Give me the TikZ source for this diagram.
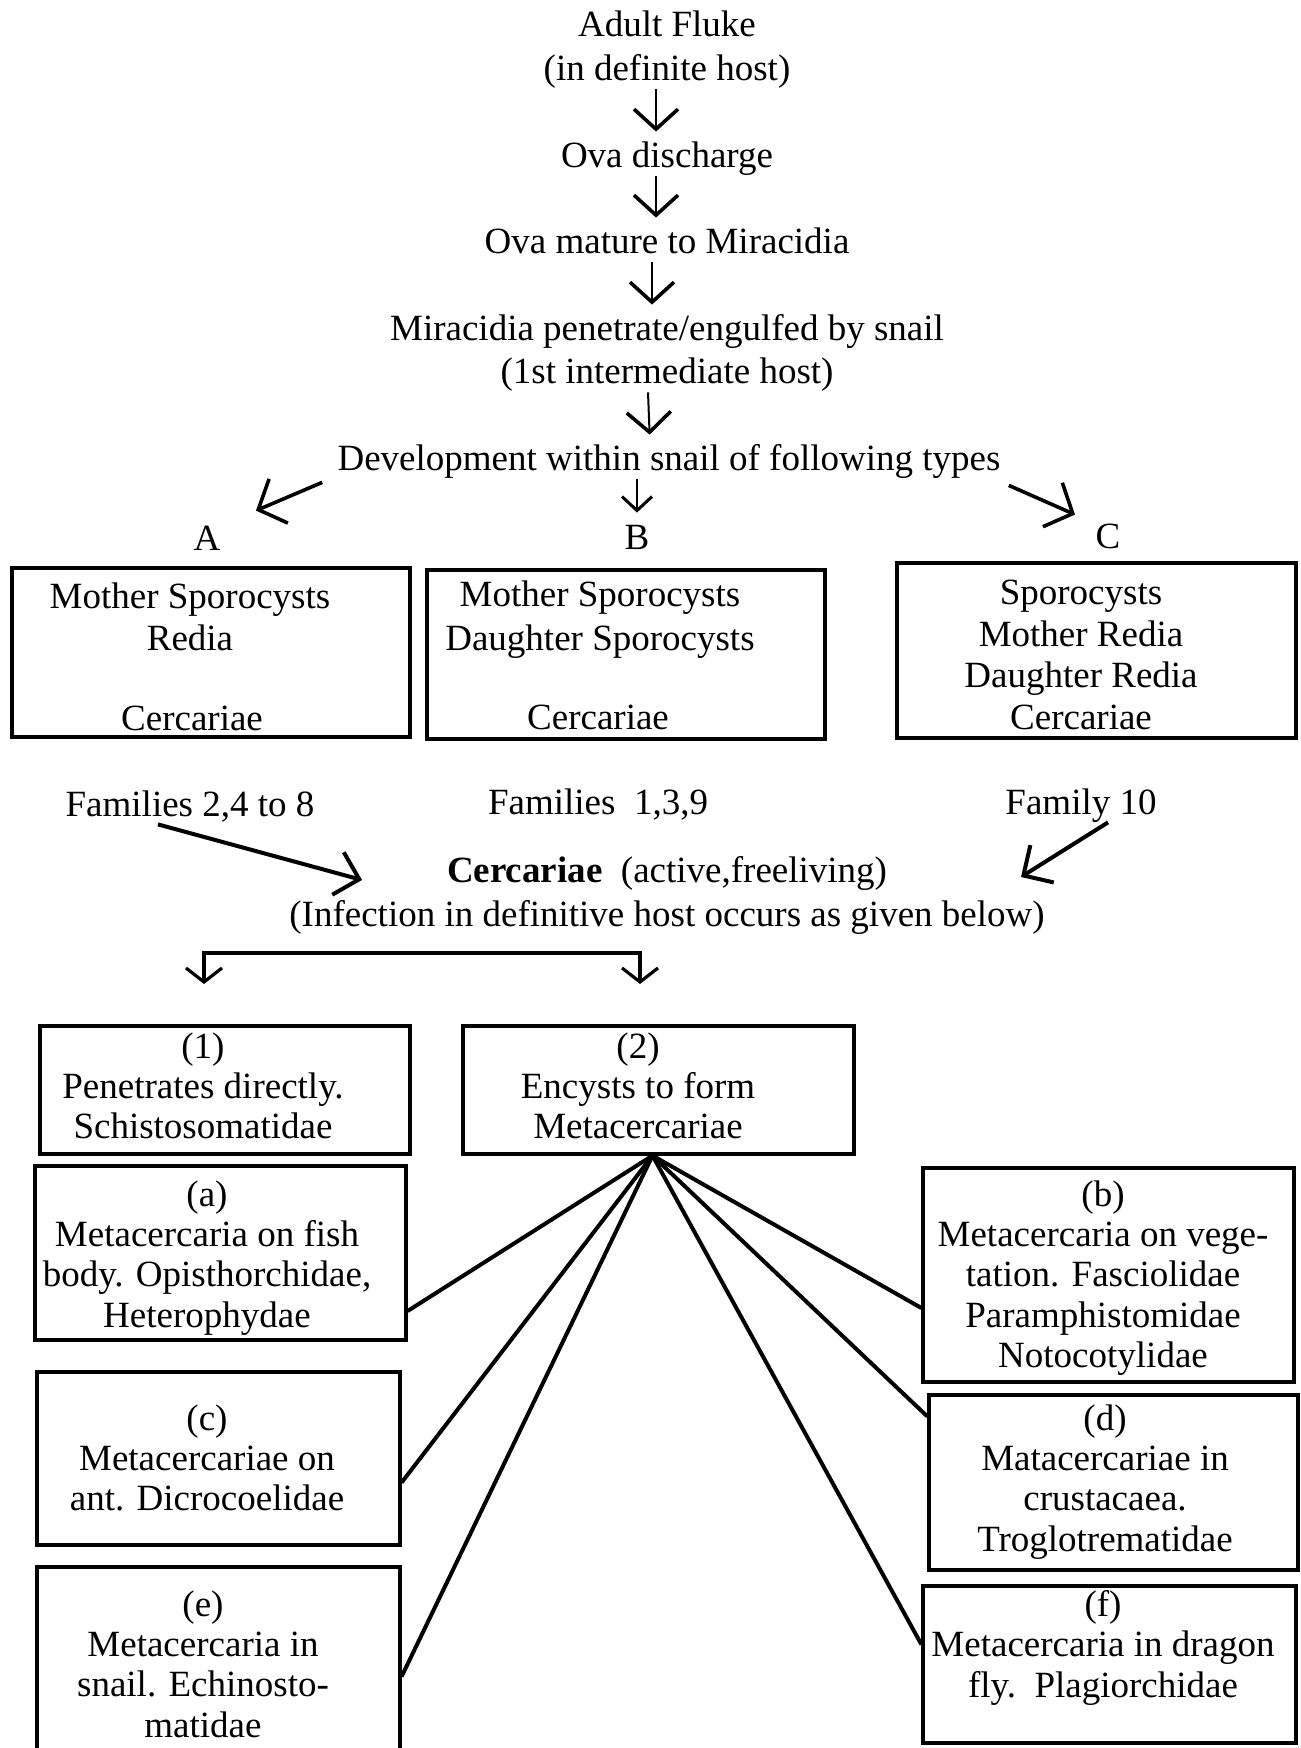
\documentclass[tikz,border=0pt]{standalone}
\usepackage{fontspec}
\setmainfont{Liberation Serif}
\usetikzlibrary{arrows.meta}
\begin{document}
\begin{tikzpicture}[x=0.5pt,y=-0.5pt,
  lbl/.style={font=\fontsize{18.5}{19.75}\selectfont, inner sep=0pt, text height=13pt, text depth=4pt},
  txt/.style={font=\fontsize{18.5}{20.2}\selectfont, align=center, inner sep=0pt, anchor=north},
  boxs/.style={draw, line width=1.6pt, rectangle, inner sep=0pt},
  vflow/.style={line width=1pt, shorten >=5pt, -{Straight Barb[length=10pt,width=22pt,line width=1.8pt]}},
  mflow/.style={line width=1pt, -{Straight Barb[length=7pt,width=15pt,line width=1.5pt]}},
  dflow/.style={line width=1.8pt, -{Straight Barb[length=11pt,width=24pt,line width=1.8pt]}},
  fflow/.style={line width=2pt, -{Straight Barb[length=11pt,width=22pt,line width=2pt]}},
  bflow/.style={line width=1.6pt, {Straight Barb[length=7pt,width=18pt,line width=1.6pt]}-{Straight Barb[length=7pt,width=18pt,line width=1.6pt]}},
  conn/.style={line width=2pt}
]
\useasboundingbox (0,0) rectangle (1300,1748);

% top chain
\node[lbl] (n1a) at (667,28) {Adult Fluke};
\node[lbl] (n1b) at (667,72) {(in definite host)};
\node[lbl] (n2) at (667,159) {Ova discharge};
\node[lbl] (n3) at (667,245) {Ova mature to Miracidia};
\node[lbl] (n4a) at (667,332) {Miracidia penetrate/engulfed by snail};
\node[lbl] (n4b) at (667,375) {(1st intermediate host)};
\node[lbl] (n5) at (669,462) {Development within snail of following types};

\draw[vflow] ([xshift=-5.5pt]n1b.south) -- ([xshift=-5.5pt]n2.north);
\draw[vflow] ([xshift=-5.5pt]n2.south) -- ([xshift=-5.5pt]n3.north);
\draw[vflow] ([xshift=-7.5pt]n3.south) -- ([xshift=-7.5pt]n4a.north);
\draw[vflow] ([xshift=-9.5pt]n4b.south) -- ([xshift=-9.5pt]n5.north);

% A B C
\node[lbl] (A) at (207,542) {A};
\node[lbl] (B) at (637,540) {B};
\node[lbl] (C) at (1108,539) {C};

\draw[dflow] ([xshift=-7.5pt,yshift=-1.5pt]n5.south west) -- ([xshift=24.5pt,yshift=7pt]A.north);
\draw[mflow] ([xshift=-16pt]n5.south) -- ([yshift=5pt]B.north);
\draw[dflow] ([xshift=4pt,yshift=-3pt]n5.south east) -- ([xshift=-16.5pt,yshift=3.5pt]C.north);

% boxes A B C
\node[boxs, minimum width=199pt, minimum height=84.5pt] (boxA) at (211,652.5) {};
\node[boxs, minimum width=199pt, minimum height=84.5pt] (boxB) at (626,654.5) {};
\node[boxs, minimum width=199.5pt, minimum height=87.5pt] (boxC) at (1096.5,650.5) {};

\node[txt, font=\fontsize{18.5}{21}\selectfont] (A1) at (190,582) {Mother Sporocysts\\Redia};
\node[lbl] (A2) at (192,721) {Cercariae};
\node[txt, font=\fontsize{18.5}{22}\selectfont] (B1) at (600,580) {Mother Sporocysts\\Daughter Sporocysts};
\node[lbl] (B2) at (598,720) {Cercariae};
\node[txt, font=\fontsize{18.5}{20.7}\selectfont] (C1) at (1081,580) {Sporocysts\\Mother Redia\\Daughter Redia\\Cercariae};

% families
\node[lbl] (famA) at (190,807) {Families 2,4 to 8};
\node[lbl] (famB) at (598,805) {Families\ \ 1,3,9};
\node[lbl] (famC) at (1081,805) {Family 10};

\node[lbl] (cerc) at (667,873) {\textbf{Cercariae}\ \ (active,freeliving)};
\node[lbl] (inf) at (667,917) {(Infection in definitive host occurs as given below)};

\draw[fflow] ([xshift=-16pt]famA.south) -- ([xshift=-152.5pt,yshift=-3.5pt]cerc.center);
\draw[fflow] ([xshift=13.5pt]famC.south) -- ([xshift=177pt,yshift=-2pt]cerc.center);

% bracket
\coordinate (bl) at (204,953);
\coordinate (br) at (640,953);
\coordinate (blend) at (204,984);
\coordinate (brend) at (640,984);
\draw[bflow] (blend) -- (bl) -- (br) -- (brend);

% lower boxes
\node[boxs, minimum width=185pt, minimum height=64pt] (box1) at (225,1090) {};
\node[boxs, minimum width=195.5pt, minimum height=64pt] (box2) at (658.5,1090) {};
\node[boxs, minimum width=185.5pt, minimum height=87pt] (boxa) at (220.5,1253) {};
\node[boxs, minimum width=181.5pt, minimum height=86.5pt] (boxc) at (218.5,1458.5) {};
\node[boxs, minimum width=181.5pt, minimum height=101.5pt] (boxe) at (218.5,1668.5) {};
\node[boxs, minimum width=185.5pt, minimum height=107pt] (boxb) at (1108.5,1275) {};
\node[boxs, minimum width=184.5pt, minimum height=87.5pt] (boxd) at (1113.5,1482.5) {};
\node[boxs, minimum width=186.5pt, minimum height=78.5pt] (boxf) at (1109.5,1664.5) {};

\node[txt] (t1) at (203,1032) {(1)\\Penetrates directly.\\Schistosomatidae};
\node[txt] (t2) at (638,1032) {(2)\\Encysts to form\\Metacercariae};
\node[txt] (ta) at (207,1180) {(a)\\Metacercaria on fish\\body. Opisthorchidae,\\Heterophydae};
\node[txt] (tc) at (207,1404) {(c)\\Metacercariae on\\ant. Dicrocoelidae};
\node[txt] (te) at (203,1590) {(e)\\Metacercaria in\\snail. Echinosto-\\matidae};
\node[txt] (tb) at (1103,1180) {(b)\\Metacercaria on vege-\\tation. Fasciolidae\\Paramphistomidae\\Notocotylidae};
\node[txt] (td) at (1105,1404) {(d)\\Matacercariae in\\crustacaea.\\Troglotrematidae};
\node[txt] (tf) at (1103,1590) {(f)\\Metacercaria in dragon\\fly.\ \ Plagiorchidae};

% connectors
\draw[conn] ([xshift=-3pt]box2.south) -- ([yshift=-29pt]boxa.east);
\draw[conn] ([xshift=-3pt]box2.south) -- ([yshift=-12pt]boxc.east);
\draw[conn] ([xshift=-3pt]box2.south) -- ([yshift=-4pt]boxe.east);
\draw[conn] ([xshift=-3pt]box2.south) -- ([yshift=-16.5pt]boxb.west);
\draw[conn] ([xshift=-3pt]box2.south) -- ([yshift=33pt]boxd.west);
\draw[conn] ([xshift=-3pt]box2.south) -- ([yshift=10pt]boxf.west);
\end{tikzpicture}
\end{document}
